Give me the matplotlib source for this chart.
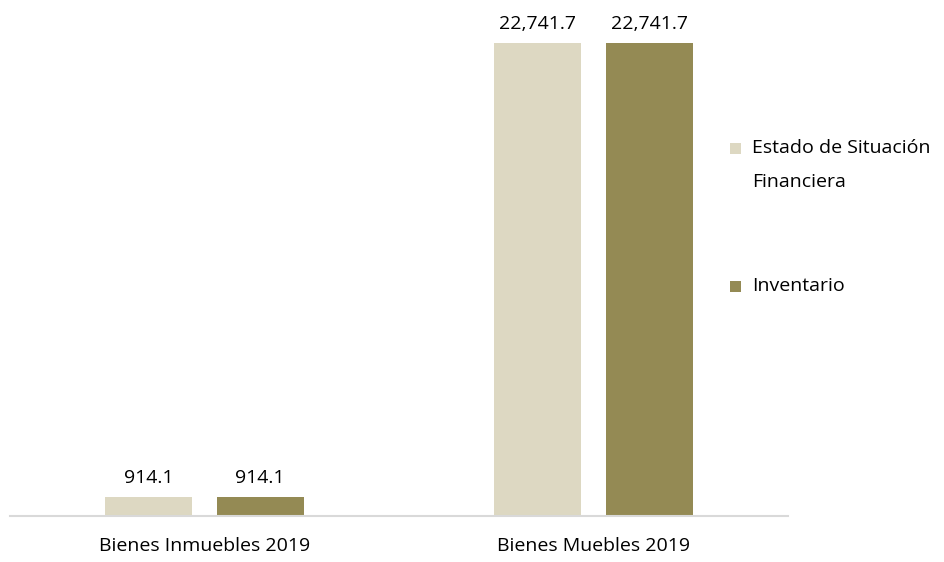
import numpy as np
import matplotlib.pyplot as plt
from matplotlib.patches import Rectangle

categories = ['Bienes Inmuebles 2019', 'Bienes Muebles 2019']
estado = [914.1, 22741.7]
inventario = [914.1, 22741.7]
labels = ['Estado de Situación\nFinanciera', 'Inventario']
colors = ['#ddd8c2', '#948a54']

plt.rcParams['font.family'] = ['Open Sans', 'DejaVu Sans']
fs = 14

fig = plt.figure(figsize=(9.45, 5.62), dpi=100)
ax = fig.add_axes([10 / 945, 1 - 516 / 562, 778 / 945, 496 / 562])

x = np.arange(len(categories))
w = 0.224
b1 = ax.bar(x - 0.143, estado, w, color=colors[0])
b2 = ax.bar(x + 0.143, inventario, w, color=colors[1])

for bars in (b1, b2):
    for r in bars:
        ax.annotate(f'{r.get_height():,.1f}', (r.get_x() + r.get_width() / 2, r.get_height()),
                    xytext=(0, 7), textcoords='offset points', ha='center', va='bottom',
                    fontsize=fs, color='#000000')

ax.set_xlim(-0.5, 1.5)
ax.set_ylim(0, 22741.7 * 496 / 473)
ax.set_xticks(x)
ax.set_xticklabels(categories, fontsize=fs)
ax.tick_params(axis='x', length=0, pad=15)
ax.set_yticks([])
for s in ['top', 'right', 'left']:
    ax.spines[s].set_visible(False)
ax.spines['bottom'].set_color('#d9d9d9')
ax.spines['bottom'].set_linewidth(1.5)

# legend, drawn by hand so the marker lines up with the first text line
W, H = 945, 562
for lab, col, yc in zip(labels, colors, [148, 286]):
    fig.patches.append(Rectangle((730 / W, 1 - (yc + 6) / H), 11 / W, 11 / H,
                                 transform=fig.transFigure, facecolor=col, edgecolor='none'))
    lines = lab.split('\n')
    for i, ln in enumerate(lines):
        fig.text(752 / W, 1 - (yc + i * 34) / H, ln, fontsize=fs, va='center', ha='left')

plt.savefig('out.png')
